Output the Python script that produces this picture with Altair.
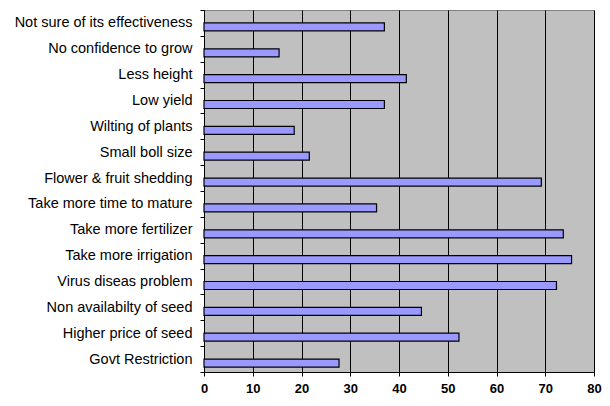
import altair as alt
import pandas as pd

categories = [
    "Not sure of its effectiveness",
    "No confidence to grow",
    "Less height",
    "Low yield",
    "Wilting of plants",
    "Small boll size",
    "Flower & fruit shedding",
    "Take more time to mature",
    "Take more fertilizer",
    "Take more irrigation",
    "Virus diseas problem",
    "Non availabilty of seed",
    "Higher price of seed",
    "Govt Restriction",
]
values = [37.0, 15.4, 41.5, 37.0, 18.5, 21.6, 69.2, 35.4, 73.7, 75.4, 72.3, 44.6, 52.3, 27.7]
x_ticks = [0, 10, 20, 30, 40, 50, 60, 70, 80]

df = pd.DataFrame({"cat": categories, "val": values})

chart = alt.Chart(df).mark_bar(
    size=8, yOffset=4, color="#9999FF", stroke="#000000", strokeWidth=1.2
).encode(
    x=alt.X("val:Q", scale=alt.Scale(domain=[0, 80], nice=False),
            axis=alt.Axis(values=x_ticks, title=None, grid=True, gridColor="#000000",
                          gridOpacity=1, gridWidth=1, domainColor="#000000",
                          tickColor="#000000", tickSize=4, labelFontWeight="bold",
                          labelFont="Liberation Sans", labelFontSize=13, labelColor="#000000",
                          labelPadding=6, labelFlush=False)),
    y=alt.Y("cat:N", sort=categories,
            scale=alt.Scale(paddingInner=0, paddingOuter=0),
            axis=alt.Axis(title=None, tickBand="extent", grid=False, domainColor="#000000",
                          tickColor="#000000", tickSize=4, labelFont="Liberation Sans",
                          labelFontSize=14.5, labelColor="#000000", labelPadding=8,
                          labelLimit=300)),
).properties(
    width=390, height=362,
    autosize=alt.AutoSizeParams(type="none"),
    padding={"left": 196, "top": 2, "right": 8, "bottom": 26},
).configure_view(
    fill="#C0C0C0", stroke="#808080", strokeWidth=1
)

chart.save("out.html", embed_options={"renderer": "svg", "actions": False})
